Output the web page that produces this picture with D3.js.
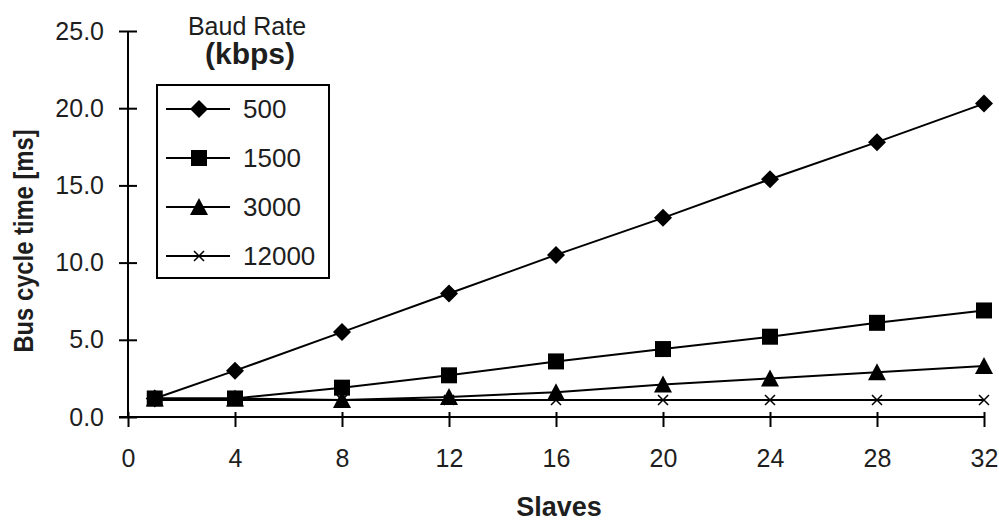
<!DOCTYPE html>
<html>
<head>
<meta charset="utf-8">
<script src="https://cdn.jsdelivr.net/npm/d3@7"></script>
<style>
  body { margin: 0; background: #fff; }
  text { font-family: "Liberation Sans", Arial, sans-serif; fill: #1e1e1e; }
</style>
</head>
<body>
<div id="chart"></div>
<script>
// slaves on the x axis
var slaves = [1, 4, 8, 12, 16, 20, 24, 28, 32];
var baudRates = ["500", "1500", "3000", "12000"];

// bus cycle time in ms
var time500   = [1.2, 3.0, 5.5, 8.0, 10.5, 12.9, 15.4, 17.8, 20.3];
var time1500  = [1.2, 1.2, 1.9, 2.7, 3.6, 4.4, 5.2, 6.1, 6.9];
var time3000  = [1.2, 1.2, 1.1, 1.3, 1.6, 2.1, 2.5, 2.9, 3.3];
var time12000 = [1.1, 1.1, 1.1, 1.1, 1.1, 1.1, 1.1, 1.1, 1.1];

var xTicks = [0, 4, 8, 12, 16, 20, 24, 28, 32];
var yTicks = [0, 5, 10, 15, 20, 25];

var dimensions = {
    width: 999,
    height: 521,
    margin: { top: 31, bottom: 104, right: 15, left: 128 }
}

var svg = d3.select("#chart")
    .append("svg")
    .attr("width", dimensions.width)
    .attr("height", dimensions.height);

var plotH = dimensions.height - dimensions.margin.top - dimensions.margin.bottom;

var x = d3.scaleLinear().domain([0, 32]).range([0, 856]);
var y = d3.scaleLinear().domain([0, 25]).range([plotH, 0]);

var g = svg.append("g")
    .attr("transform", `translate(${dimensions.margin.left}, ${dimensions.margin.top})`);

// y axis, ticks crossing the line
var yAxis = g.append("g")
    .call(d3.axisLeft(y).tickValues(yTicks).tickSize(9).tickPadding(15).tickFormat(d3.format(".1f")));
yAxis.select(".domain").attr("stroke-width", 2).attr("d", `M0,${plotH}V0`);
yAxis.selectAll(".tick line").attr("x1", 9).attr("x2", -9).attr("stroke-width", 2);
yAxis.selectAll("text").style("font-size", "25px").style("font-family", "Liberation Sans").attr("fill", "#1e1e1e");

// x axis
var xAxis = g.append("g")
    .attr("transform", `translate(0, ${plotH})`)
    .call(d3.axisBottom(x).tickValues(xTicks).tickSize(10).tickPadding(22));
xAxis.select(".domain").attr("stroke-width", 2).attr("d", `M-9,0H${x(32)}`);
xAxis.selectAll(".tick line").attr("y1", -5).attr("y2", 10).attr("stroke-width", 2);
xAxis.selectAll("text").style("font-size", "25px").style("font-family", "Liberation Sans").attr("fill", "#1e1e1e");

// axis titles (a bit condensed like the original)
svg.append("text")
    .attr("transform", "translate(33, 241) rotate(-90) scale(0.88, 1)")
    .attr("text-anchor", "middle")
    .style("font-size", "27px")
    .style("font-weight", "bold")
    .text("Bus cycle time [ms]");

svg.append("text")
    .attr("x", 559)
    .attr("y", 516)
    .attr("text-anchor", "middle")
    .style("font-size", "27px")
    .style("font-weight", "bold")
    .text("Slaves");

var allSeries = [time500, time1500, time3000, time12000];
var markerTypes = ["diamond", "square", "triangle", "cross"];

function drawMarker(sel, type) {
    if (type == "diamond") {
        sel.append("path").attr("d", "M0,-9L9,0L0,9L-9,0Z").attr("fill", "#000");
    } else if (type == "square") {
        sel.append("rect").attr("x", -8).attr("y", -8).attr("width", 16).attr("height", 16).attr("fill", "#000");
    } else if (type == "triangle") {
        sel.append("path").attr("d", "M0,-9L9,8L-9,8Z").attr("fill", "#000");
    } else {
        sel.append("path").attr("d", "M-5,-5L5,5M-5,5L5,-5").attr("stroke", "#000").attr("stroke-width", 1.5);
    }
}

var line = d3.line()
    .x((d, i) => x(slaves[i]))
    .y(d => y(d));

// draw from last to first so the top series sits on top
for (let s = allSeries.length - 1; s >= 0; s--) {
    g.append("path")
        .datum(allSeries[s])
        .attr("d", line)
        .attr("fill", "none")
        .attr("stroke", "#000")
        .attr("stroke-width", 2);

    allSeries[s].forEach((v, i) => {
        var m = g.append("g").attr("transform", `translate(${x(slaves[i])}, ${y(v)})`);
        drawMarker(m, markerTypes[s]);
    });
}

// legend
var legend = svg.append("g");
legend.append("text")
    .attr("x", 247).attr("y", 35)
    .attr("text-anchor", "middle")
    .style("font-size", "25px")
    .text("Baud Rate");
legend.append("text")
    .attr("x", 250).attr("y", 64)
    .attr("text-anchor", "middle")
    .style("font-size", "30px")
    .style("font-weight", "bold")
    .text("(kbps)");

legend.append("rect")
    .attr("x", 157).attr("y", 85)
    .attr("width", 172).attr("height", 193)
    .attr("fill", "#fff")
    .attr("stroke", "#000")
    .attr("stroke-width", 2);

var legendY = d3.scalePoint().domain(baudRates).range([109, 256]);

baudRates.forEach((rate, i) => {
    var ly = legendY(rate);
    legend.append("line")
        .attr("x1", 166).attr("x2", 230)
        .attr("y1", ly).attr("y2", ly)
        .attr("stroke", "#000").attr("stroke-width", 2);
    var m = legend.append("g").attr("transform", `translate(199, ${ly})`);
    drawMarker(m, markerTypes[i]);
    legend.append("text")
        .attr("x", 243).attr("y", ly)
        .attr("dy", "0.36em")
        .style("font-size", "26px")
        .text(rate);
});
</script>
</body>
</html>
